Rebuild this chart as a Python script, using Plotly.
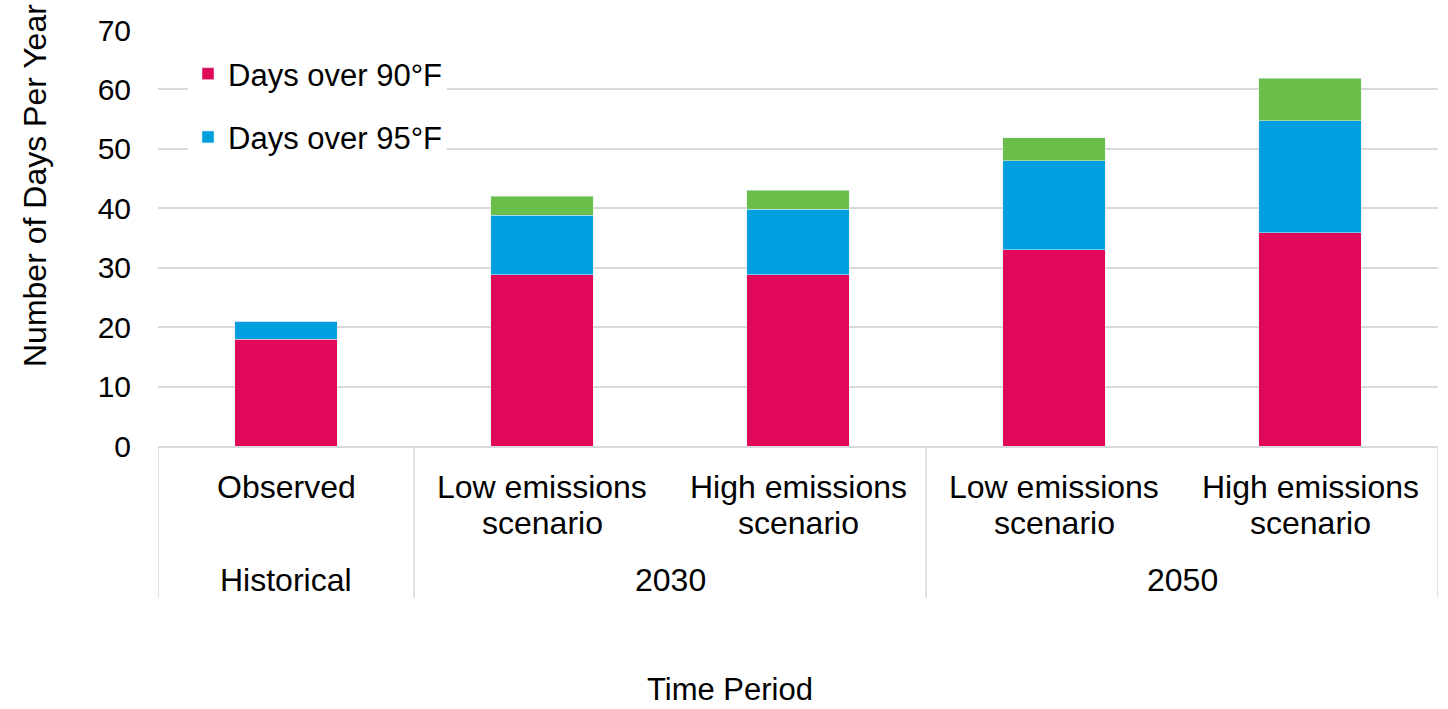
import plotly.graph_objects as go

# ---- data ----
categories = ["Observed", "Low emissions<br>scenario", "High emissions<br>scenario",
              "Low emissions<br>scenario", "High emissions<br>scenario"]
groups = ["Historical", "2030", "2050"]
group_members = [[0], [1, 2], [3, 4]]
days_over_90 = [18, 28.8, 28.8, 33, 35.9]
days_over_95 = [3, 10, 11, 15, 18.8]
days_extra = [0, 3.2, 3.2, 3.9, 7.2]
y_ticks = [0, 10, 20, 30, 40, 50, 60, 70]

RED = "#E10859"
BLUE = "#00A0E0"
GREEN = "#6ABF4B"
GRID = "#D9D9D9"
FONT = "Liberation Sans, Arial, sans-serif"

W, H = 1448, 709
L, R, T, B = 158, 10, 30, 263
PH = H - T - B

def py(px):
    """pixel y -> paper y"""
    return (H - B - px) / PH

def pxx(px):
    return (px - L) / (W - L - R)

x = list(range(len(categories)))

fig = go.Figure()
fig.add_trace(go.Bar(x=x, y=days_over_90, name="Days over 90°F", marker_color=RED,
                     width=0.402, legendgroup="a"))
fig.add_trace(go.Bar(x=x, y=days_over_95, name="Days over 95°F", marker_color=BLUE,
                     width=0.402, legendgroup="b"))
fig.add_trace(go.Bar(x=x, y=days_extra, name="Days over 100°F", marker_color=GREEN,
                     width=0.402, showlegend=False, legendgroup="c"))

annotations = []
# inner category labels
for i, lab in enumerate(categories):
    lines = lab.split("<br>")
    for j, ln in enumerate(lines):
        annotations.append(dict(x=i, xref="x", y=py(487 + 36 * j), yref="paper",
                                text=ln, showarrow=False, xanchor="center", yanchor="middle",
                                font=dict(family=FONT, size=32, color="#000")))
# group labels
for g, mem in zip(groups, group_members):
    annotations.append(dict(x=sum(mem) / len(mem), xref="x", y=py(580), yref="paper",
                            text=g, showarrow=False, xanchor="center", yanchor="middle",
                            font=dict(family=FONT, size=32, color="#000")))
# axis titles
annotations.append(dict(x=pxx(35), xref="paper", y=py(186), yref="paper",
                        text="Number of Days Per Year", textangle=-90, showarrow=False,
                        xanchor="center", yanchor="middle",
                        font=dict(family=FONT, size=32, color="#000")))
annotations.append(dict(x=pxx(730), xref="paper", y=py(689), yref="paper",
                        text="Time Period", showarrow=False,
                        xanchor="center", yanchor="middle",
                        font=dict(family=FONT, size=31, color="#000")))

shapes = []
for xb in [-0.5, 0.5, 2.5, 4.5]:
    shapes.append(dict(type="line", xref="x", yref="paper", x0=xb, x1=xb,
                       y0=0, y1=py(598), line=dict(color=GRID, width=1.5)))

fig.update_layout(
    width=W, height=H,
    margin=dict(l=L, r=R, t=T, b=B, pad=0),
    barmode="stack",
    plot_bgcolor="white", paper_bgcolor="white",
    font=dict(family=FONT, size=30, color="#000"),
    showlegend=True,
    legend=dict(x=pxx(188), y=py(47), xanchor="left", yanchor="top",
                bgcolor="white", traceorder="grouped", tracegroupgap=20,
                font=dict(family=FONT, size=31, color="#000")),
    annotations=annotations,
    shapes=shapes,
    xaxis=dict(range=[-0.5, 4.5], showticklabels=False, ticks="", showgrid=False,
               zeroline=False, showline=True, linecolor=GRID, linewidth=1.5,
               fixedrange=True),
    yaxis=dict(range=[0, 70], tickvals=y_ticks, ticks="", showgrid=True,
               gridcolor=GRID, gridwidth=1.5, zeroline=False, showline=False,
               ticklabelstandoff=26, tickfont=dict(family=FONT, size=30, color="#000"),
               fixedrange=True),
)

fig.write_html("out.html", config={"displayModeBar": False},
               post_script="document.body.style.margin='0';")
